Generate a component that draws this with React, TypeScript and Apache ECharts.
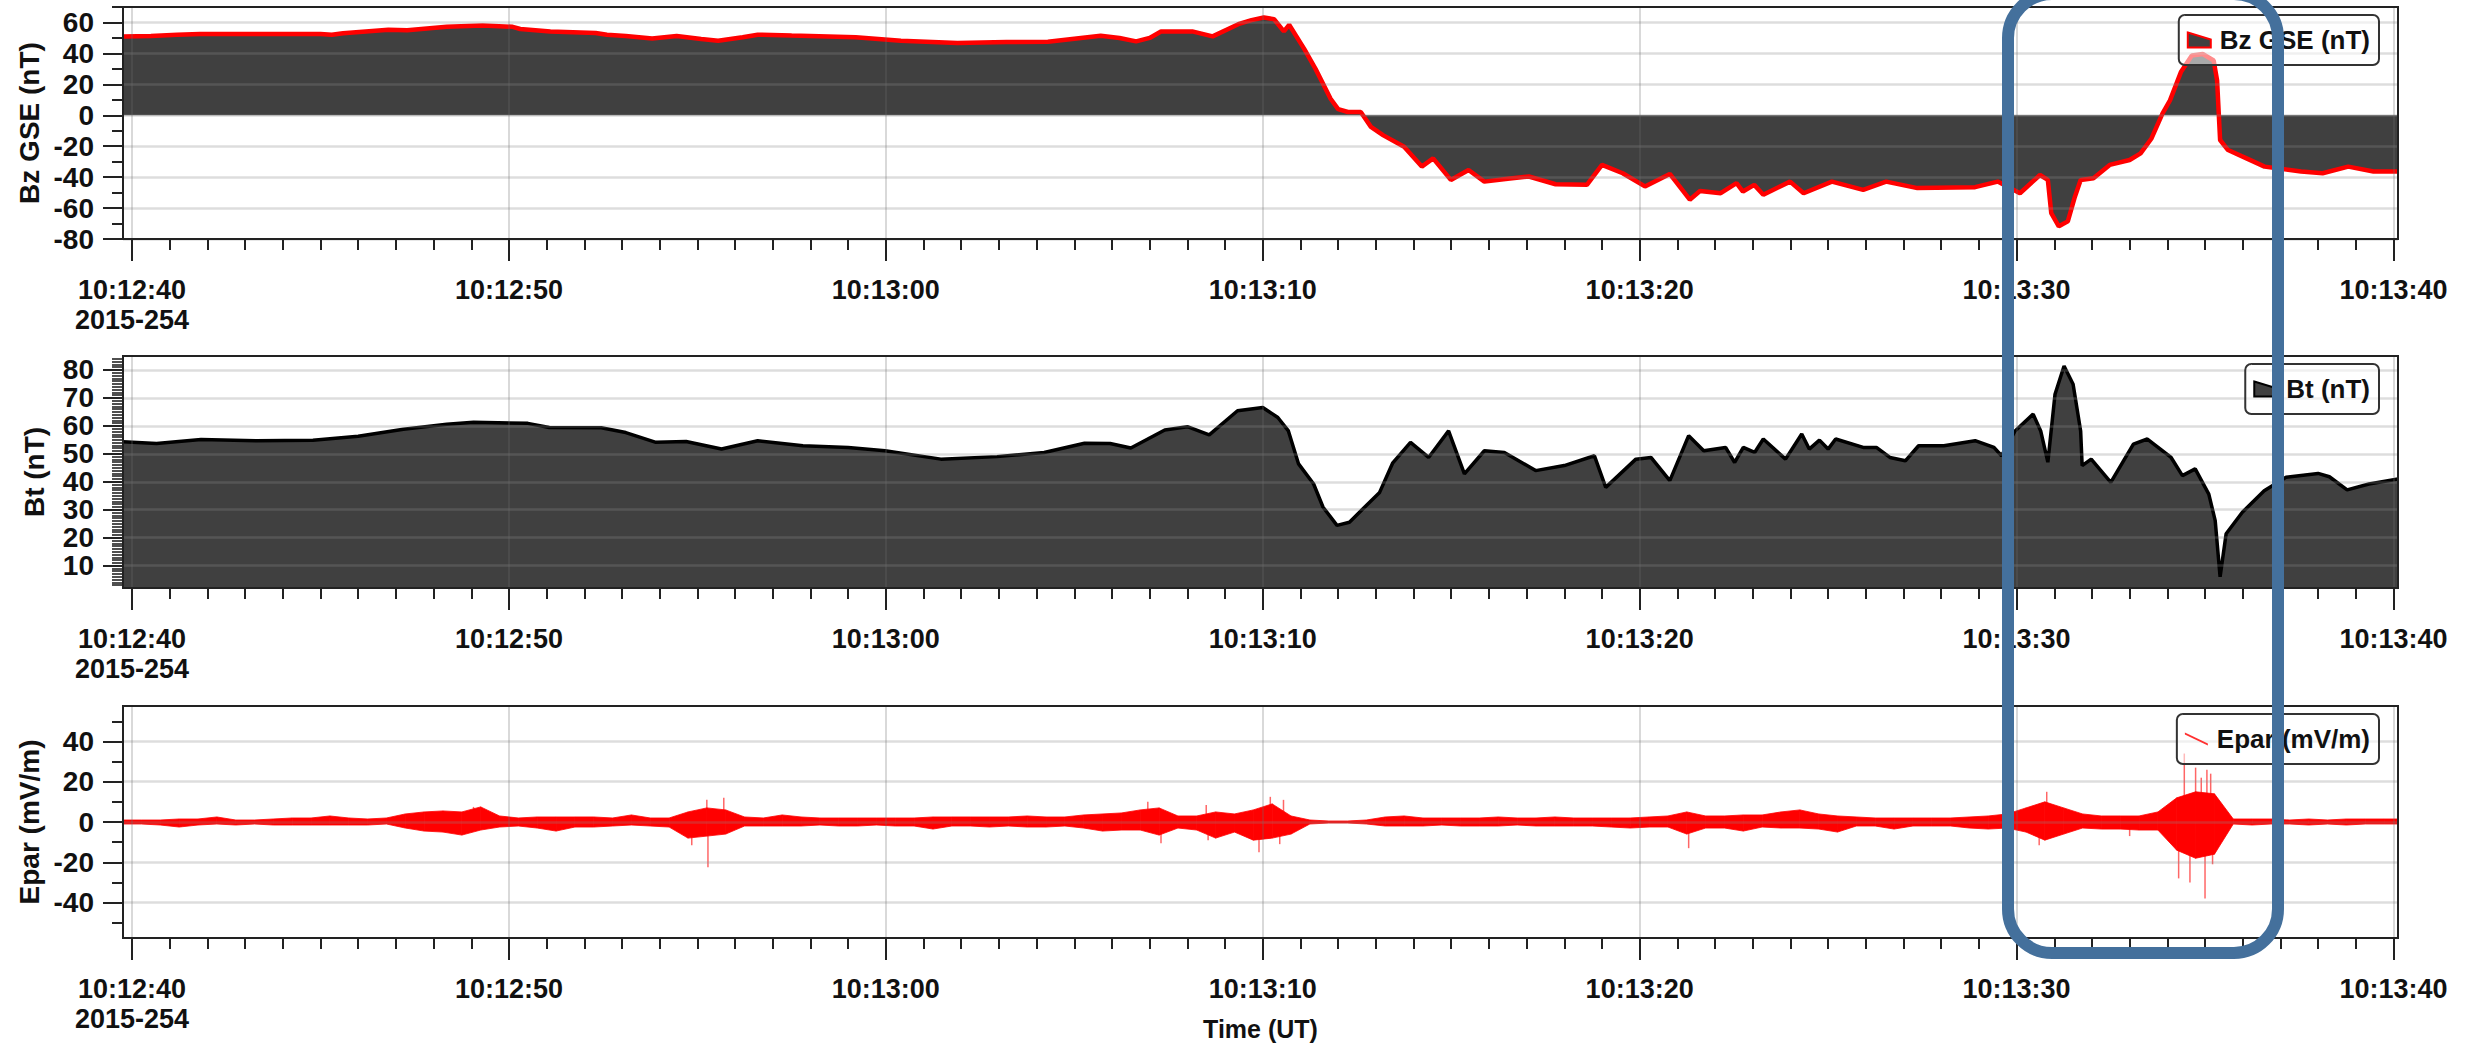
import React, { useEffect, useRef } from "react";
import * as echarts from "echarts";

// ---------- DATA (seconds after 10:12:40 UT, 2015-254) ----------
const bzData: [number, number][] = [
  [-0.24, 51], [0.5, 51.2], [1.2, 52], [1.8, 52.5], [3.2, 52.6], [5.0, 52.5], [5.3, 52], [5.6, 53], [6.8, 55.3], [7.3, 55],
  [8.35, 57.2], [9.3, 58], [10.1, 57.2], [10.3, 55.8], [11.1, 54.2], [12.3, 53.2], [12.6, 52], [13.1, 51.2],
  [13.8, 49.7], [14.45, 51.2], [15.1, 49.3], [15.55, 48.2], [16.2, 50.5], [16.6, 52.1], [17.5, 51.5], [19.2, 50.4],
  [20.4, 48.2], [21.9, 46.7], [23.2, 47.3], [24.3, 47.6], [25.0, 49.5], [25.7, 51.4], [26.2, 50], [26.64, 47.8],
  [27.0, 50], [27.3, 54.2], [28.13, 54.2], [28.67, 51], [29.35, 58.9], [29.7, 61.5], [30.03, 63.2], [30.3, 62.1],
  [30.56, 54.2], [30.7, 58.5], [31.1, 42.9], [31.4, 30], [31.8, 10.7], [32.0, 4], [32.26, 2.1], [32.6, 2.1],
  [32.87, -7.5], [33.2, -13], [33.75, -20.4], [34.22, -33.2], [34.52, -27.9], [34.99, -41.8], [35.46, -35.4],
  [35.88, -42.9], [36.5, -41], [37.06, -39.6], [37.77, -44.6], [38.6, -45], [39.0, -32.1], [39.55, -37.5],
  [40.14, -46], [40.8, -37.9], [41.33, -54.6], [41.6, -49], [42.15, -50.4], [42.57, -43.9], [42.74, -49.3],
  [43.04, -45], [43.28, -51.4], [43.99, -42.9], [44.35, -50.4], [45.1, -42.9], [45.93, -48.2], [46.54, -42.9],
  [47.37, -47.1], [48.37, -46.7], [48.9, -46.5], [49.5, -42.9], [50.09, -50.4], [50.62, -38.6], [50.83, -41.8],
  [50.92, -63.2], [51.12, -71.8], [51.36, -68.6], [51.55, -52.5], [51.7, -41.8], [52.04, -40.7], [52.47, -32.1],
  [53.0, -28.9], [53.29, -24.6], [53.58, -15], [53.87, 1.1], [54.07, 9.6], [54.36, 27.9], [54.65, 38.6],
  [54.94, 39.6], [55.23, 35.4], [55.32, 22.5], [55.4, -16], [55.61, -22.5], [56.1, -27.9], [56.58, -33.2],
  [57.55, -36.4], [58.12, -37.5], [58.8, -33.2], [59.47, -36.4], [60.12, -36.4],
];

const btData: [number, number][] = [
  [-0.24, 54.3], [0.65, 53.7], [1.83, 55.1], [3.3, 54.7], [4.8, 54.9], [6.0, 56.3], [7.2, 58.8], [8.35, 60.6],
  [9.06, 61.3], [10.5, 60.9], [11.07, 59.4], [12.45, 59.3], [13.1, 57.6], [13.9, 54.1], [14.7, 54.4],
  [15.64, 51.7], [16.6, 54.7], [17.8, 52.9], [19.0, 52.3], [19.98, 51.1], [21.46, 48.1], [22.95, 49],
  [24.2, 50.5], [25.27, 53.8], [25.95, 53.7], [26.5, 52.1], [27.4, 58.5], [28.0, 59.7], [28.58, 56.8],
  [29.33, 65.4], [30.0, 66.6], [30.4, 63], [30.68, 58.2], [30.95, 46.4], [31.35, 39.2], [31.6, 30.9],
  [31.97, 24.4], [32.3, 25.5], [32.7, 30.9], [33.1, 36.2], [33.45, 46.8], [33.92, 54.1], [34.4, 48.7],
  [34.93, 58.2], [35.35, 42.8], [35.88, 51.1], [36.41, 50.5], [37.24, 44], [38.0, 45.8], [38.8, 49.3],
  [39.1, 38], [39.9, 48.1], [40.3, 48.7], [40.8, 40.4], [41.3, 56.5], [41.7, 51.1], [42.28, 52.3],
  [42.52, 46.9], [42.75, 52.3], [43.05, 50.5], [43.28, 55.3], [43.87, 48.1], [44.3, 57.1], [44.5, 51.7],
  [44.77, 54.9], [45.0, 51.7], [45.2, 55.3], [45.93, 52.3], [46.28, 52.3], [46.64, 48.7], [47.05, 47.5],
  [47.4, 52.9], [48.07, 52.9], [48.9, 54.7], [49.4, 52.3], [49.6, 49.3], [49.96, 58.2], [50.44, 64.2],
  [50.64, 58.2], [50.83, 47], [51.02, 71.3], [51.26, 81.4], [51.5, 74.9], [51.7, 58.2], [51.74, 45.8],
  [51.98, 48.1], [52.5, 39.8], [53.1, 53.5], [53.47, 55.3], [54.1, 48.7], [54.4, 42.2], [54.74, 44.6],
  [55.1, 35.6], [55.27, 26.1], [55.4, 6], [55.56, 21.4], [55.99, 29.1], [56.57, 36.8], [57.15, 41.6],
  [58.0, 43], [58.3, 41.8], [58.77, 37.1], [59.35, 39.2], [60.12, 41],
];

// Epar envelope (max / min in 0.5 s bins, first bin centred at -0.25 s)
const eparStart = -0.25;
const eparStep = 0.5;
const eparHi: number[] = [
  1, 1, 1, 1.5, 1.5, 2.5, 1, 1, 1.5, 2, 2, 3, 2, 1.5, 2, 4, 5, 5.5, 5, 7.5,
  3, 2, 2.5, 2.5, 2.5, 2.5, 2, 3.5, 2, 2, 5, 7, 6, 2.5, 2, 3.5, 2.5, 2, 2, 2,
  2, 2, 2, 2.5, 2.5, 2.5, 2.5, 2.5, 3, 2.5, 2.5, 3.5, 4, 4.5, 6, 7, 3, 3, 5, 4,
  6, 9, 3, 1, 0.5, 0.5, 1, 2.5, 3, 2, 2, 2, 2, 2.5, 2, 2, 2.5, 2, 2, 2,
  2, 2.5, 3, 5, 3, 3, 3.5, 3.5, 5, 6, 4, 3, 2.5, 2, 2, 2, 2, 2, 2.5, 3,
  4, 7, 10, 7, 4, 3, 3, 3, 5, 12, 15, 14, 1.5, 1.5, 1.5, 1, 1.5, 1, 1.5, 1.5,
  1.5, 1.5,
];
const eparLo: number[] = [
  -1, -1, -1.5, -2.5, -1.5, -1, -1.5, -1, -1.5, -1.5, -1.5, -1.5, -1.5, -1.5, -1, -3, -4.5, -5, -6.5, -4,
  -2.5, -2, -3, -4.5, -2.5, -2.5, -2, -1.5, -2, -2.5, -8, -7, -6, -2, -2, -2, -2, -1.5, -2, -2,
  -1.5, -2, -2, -3.5, -2, -2, -2.5, -2, -2.5, -2.5, -2, -3, -4.5, -4, -4, -6.5, -3, -4, -8, -5,
  -9, -8, -6, -1, -0.5, -0.5, -1, -2, -2, -2, -1.5, -2, -2, -2, -1.5, -2, -2, -2, -2, -2.5,
  -3, -2.5, -2.5, -6, -3, -3, -4.5, -2.5, -3, -3, -3.5, -5, -2, -2, -3.5, -2, -2, -2, -3, -3.5,
  -3, -5, -9, -6, -3, -3.5, -3.5, -4, -4, -14, -18, -16, -1, -1.5, -1, -1, -1.5, -1, -1.5, -1,
  -1, -1,
];
// isolated Epar spikes [time, value]
const eparSpikes: [number, number][] = [
  [1.3, -2.5], [9.06, 7.5], [14.85, -11.5], [15.25, 11], [15.28, -22.5], [15.7, 12], [26.95, 10], [27.3, -10.5],
  [28.5, 8.5], [28.55, -9], [29.9, -15], [30.2, 12.5], [30.45, -11], [30.55, 11], [41.3, -13], [50.6, -11.5],
  [50.8, 15], [53.0, -7], [54.3, -28], [54.45, 34], [54.6, -30], [54.75, 27], [54.9, 22], [55.0, -38],
  [55.05, 26], [55.15, 24], [55.2, -21],
];

// ---------- AXES ----------
const xRange = [-0.24, 60.12];
const xTickValues = [0, 10, 20, 30, 40, 50, 60];
const xTickLabels = ["10:12:40", "10:12:50", "10:13:00", "10:13:10", "10:13:20", "10:13:30", "10:13:40"];
const dateLabel = "2015-254";
const xMinorValues = Array.from({ length: 61 }, (_, i) => i);

const bzRange = [-80, 70];
const bzTicks = [-80, -60, -40, -20, 0, 20, 40, 60];
const bzMinor = [-70, -50, -30, -10, 10, 30, 50, 70];

const btRange = [2, 85];
const btTicks = [10, 20, 30, 40, 50, 60, 70, 80];
const btMinor = Array.from({ length: 82 }, (_, i) => i + 3);

const eparRange = [-57.6, 57.6];
const eparTicks = [-40, -20, 0, 20, 40];
const eparMinor = [-50, -30, -10, 10, 30, 50];

const FONT = "'Liberation Sans', Arial, Helvetica, sans-serif";
const INK = "#111";
const FILL = "#404040";

export default function App() {
  const ref = useRef<HTMLDivElement>(null);
  useEffect(() => {
    if (!ref.current) return;
    const chart = echarts.init(ref.current, undefined, { renderer: "svg" });

    const grids = [
      { left: 123, width: 2275, top: 7, height: 232 },
      { left: 123, width: 2275, top: 356, height: 232 },
      { left: 123, width: 2275, top: 706, height: 232 },
    ].map((g) => ({ ...g, show: true, z: 5, borderColor: "#222", borderWidth: 2, backgroundColor: "transparent" }));

    const xAxes: any[] = [];
    [0, 1, 2].forEach((gi) => {
      xAxes.push({
        type: "value",
        gridIndex: gi,
        min: xRange[0],
        max: xRange[1],
        position: "bottom",
        z: 3,
        axisLine: { show: true, onZero: false, lineStyle: { color: "#222", width: 2 } },
        axisTick: { show: true, customValues: xTickValues, length: 22, lineStyle: { color: "#222", width: 2 } },
        axisLabel: {
          customValues: xTickValues,
          formatter: (v: number) => {
            const k = xTickValues.indexOf(Math.round(v));
            const s = xTickLabels[k] ?? "";
            return k === 0 ? s + "\n" + dateLabel : s;
          },
          margin: 36,
          color: INK,
          fontSize: 27,
          fontWeight: "bold",
          fontFamily: FONT,
          lineHeight: 30,
          verticalAlign: "top",
        },
        splitLine: { show: true, lineStyle: { color: "rgba(110,110,110,0.35)", width: 1.5 } },
        name: gi === 2 ? "Time (UT)" : "",
        nameLocation: "middle",
        nameGap: 78,
        nameMoveOverlap: false,
        nameTextStyle: { fontSize: 25, fontWeight: "bold", color: INK, fontFamily: FONT },
      });
      xAxes.push({
        type: "value",
        gridIndex: gi,
        min: xRange[0],
        max: xRange[1],
        position: "bottom",
        z: 3,
        axisLine: { show: false, onZero: false },
        axisTick: { show: true, customValues: xMinorValues, length: 11, lineStyle: { color: "#222", width: 2 } },
        axisLabel: { show: false },
        splitLine: { show: false },
      });
    });

    const yDefs = [
      { range: bzRange, ticks: bzTicks, minor: bzMinor, name: "Bz GSE (nT)", gap: 80, minorW: 2 },
      { range: btRange, ticks: btTicks, minor: btMinor, name: "Bt (nT)", gap: 75, minorW: 1.6 },
      { range: eparRange, ticks: eparTicks, minor: eparMinor, name: "Epar (mV/m)", gap: 80, minorW: 2 },
    ];
    const yAxes: any[] = [];
    yDefs.forEach((d, gi) => {
      yAxes.push({
        type: "value",
        gridIndex: gi,
        min: d.range[0],
        max: d.range[1],
        position: "left",
        z: 3,
        axisLine: { show: true, onZero: false, lineStyle: { color: "#222", width: 2 } },
        axisTick: { show: true, customValues: d.ticks, length: 20, lineStyle: { color: "#222", width: 2 } },
        axisLabel: {
          customValues: d.ticks,
          margin: 29,
          color: INK,
          fontSize: 28,
          fontWeight: "bold",
          fontFamily: FONT,
        },
        splitLine: { show: true, lineStyle: { color: "rgba(137,137,137,0.29)", width: 2.5 } },
        name: d.name,
        nameLocation: "middle",
        nameGap: d.gap,
        nameMoveOverlap: false,
        nameTextStyle: { fontSize: 28, fontWeight: "bold", color: INK, fontFamily: FONT },
      });
      yAxes.push({
        type: "value",
        gridIndex: gi,
        min: d.range[0],
        max: d.range[1],
        position: "left",
        offset: 0,
        z: 3,
        axisLine: { show: false, onZero: false },
        axisTick: { show: true, customValues: d.minor, length: 11, lineStyle: { color: "#222", width: d.minorW } },
        axisLabel: { show: false },
        splitLine: { show: false },
      });
    });

    const eparBand = eparHi.map((h, i) => [eparStart + i * eparStep, h, eparLo[i]]);

    const legendBase = {
      orient: "horizontal",
      right: 92,
      padding: [12, 9, 12, 8],
      itemWidth: 23,
      itemHeight: 15,
      selectedMode: false,
      borderColor: "#333",
      borderWidth: 2,
      borderRadius: 6,
      backgroundColor: "rgba(255,255,255,0.55)",
      textStyle: { fontSize: 26, fontWeight: "bold", color: INK, fontFamily: FONT, padding: [0, 0, 0, 4] },
      z: 6,
    };

    chart.setOption({
      animation: false,
      backgroundColor: "#ffffff",
      grid: grids,
      xAxis: xAxes,
      yAxis: yAxes,
      legend: [
        {
          ...legendBase,
          top: 15,
          data: [
            {
              name: "Bz GSE (nT)",
              icon: "path://M0,0 L23,7 L23,15 L0,15 Z",
              itemStyle: { color: FILL, borderColor: "#ff0000", borderWidth: 2 },
            },
          ],
        },
        {
          ...legendBase,
          top: 364,
          data: [
            {
              name: "Bt (nT)",
              icon: "path://M0,0 L23,7 L23,15 L0,15 Z",
              itemStyle: { color: FILL, borderColor: "#000", borderWidth: 2 },
            },
          ],
        },
        {
          ...legendBase,
          top: 714,
          data: [
            {
              name: "Epar (mV/m)",
              icon: "path://M0,0 L23,11 L23,13 L0,2 Z",
              itemStyle: { color: "#ff3030", borderWidth: 0 },
            },
          ],
        },
      ],
      series: [
        {
          name: "Bz GSE (nT)",
          type: "line",
          xAxisIndex: 0,
          yAxisIndex: 0,
          data: bzData,
          symbol: "none",
          lineStyle: { color: "#ff0000", width: 4.5 },
          itemStyle: { color: "#ff0000" },
          areaStyle: { color: FILL, opacity: 1, origin: 0 },
          z: 2,
        },
        {
          name: "Bt (nT)",
          type: "line",
          xAxisIndex: 2,
          yAxisIndex: 2,
          data: btData,
          symbol: "none",
          lineStyle: { color: "#000", width: 3.5 },
          itemStyle: { color: "#000" },
          areaStyle: { color: FILL, opacity: 1, origin: "start" },
          z: 2,
        },
        {
          name: "Epar (mV/m)",
          type: "custom",
          xAxisIndex: 4,
          yAxisIndex: 4,
          clip: true,
          data: eparBand,
          encode: { x: 0, y: [1, 2] },
          itemStyle: { color: "#ff0000" },
          renderItem: (params: any, api: any) => {
            const i = params.dataIndex;
            if (i >= eparHi.length - 1) return { type: "group", children: [] };
            const t0 = eparStart + i * eparStep;
            const t1 = t0 + eparStep;
            const a = api.coord([t0, eparHi[i]]);
            const b = api.coord([t1, eparHi[i + 1]]);
            const c = api.coord([t1, eparLo[i + 1]]);
            const d = api.coord([t0, eparLo[i]]);
            return {
              type: "polygon",
              shape: { points: [a, b, c, d] },
              style: { fill: "#ff0000", stroke: "#ff0000", lineWidth: 0.8 },
            };
          },
          z: 2,
        },
        {
          name: "Epar spikes",
          type: "custom",
          xAxisIndex: 4,
          yAxisIndex: 4,
          clip: true,
          data: eparSpikes,
          encode: { x: 0, y: 1 },
          renderItem: (params: any, api: any) => {
            const p0 = api.coord([api.value(0), 0]);
            const p1 = api.coord([api.value(0), api.value(1)]);
            return {
              type: "line",
              shape: { x1: p0[0], y1: p0[1], x2: p1[0], y2: p1[1] },
              style: { stroke: "rgba(255,0,0,0.6)", lineWidth: 1.5 },
            };
          },
          z: 2,
        },
      ],
      graphic: [
        {
          type: "rect",
          shape: { x: 2008, y: -6, width: 270, height: 959, r: 44 },
          style: { fill: "none", stroke: "#44709c", lineWidth: 12 },
          z: 100,
        },
      ],
    });

    return () => chart.dispose();
  }, []);

  return (
    <div
      ref={ref}
      style={{ position: "fixed", left: 0, top: 0, width: 2471, height: 1052, background: "#fff" }}
    />
  );
}
